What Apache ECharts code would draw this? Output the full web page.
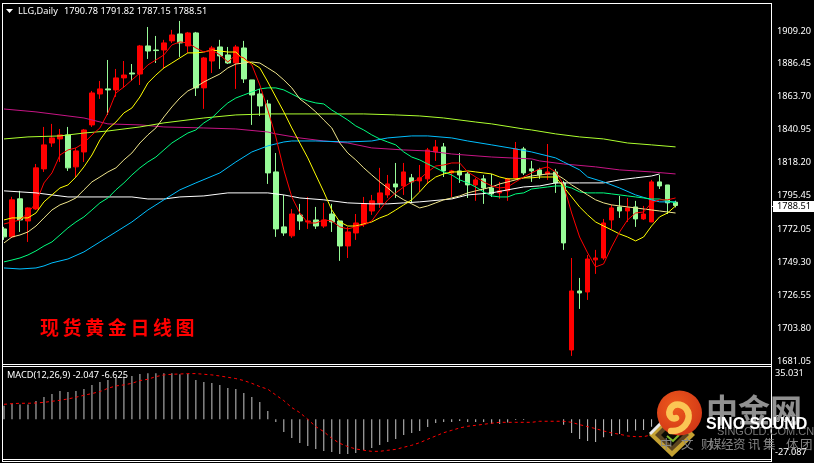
<!DOCTYPE html>
<html>
<head>
<meta charset="utf-8">
<style>html,body{margin:0;padding:0;background:#000}#chart{width:814px;height:463px}</style>
<script src="https://cdn.jsdelivr.net/npm/echarts@6/dist/echarts.min.js"></script>
</head>
<body>
<div id="chart"></div>
<script>
const symbolName = 'LLG,Daily';
const quoteLine = '1790.78 1791.82 1787.15 1788.51';
const macdLine = 'MACD(12,26,9) -2.047 -6.625';
const paneCaption = '现货黄金日线图';
const priceTicks = [1909.20,1886.45,1863.70,1840.95,1818.20,1795.45,1772.05,1749.30,1726.55,1703.80,1681.05];
const macdTicks = [35.031,0,-27.087];

const opens = [1772.3,1766.8,1793.1,1777.8,1786.1,1813.8,1831.7,1834.5,1837.3,1815.2,1825.5,1844.2,1865.6,1869.1,1868.4,1876.7,1880.1,1879.4,1898.8,1896.0,1896.0,1902.3,1907.1,1898.8,1907.8,1869.8,1888.4,1898.1,1892.6,1887.0,1897.4,1875.3,1865.6,1858.7,1811.7,1773.7,1767.5,1781.9,1777.1,1778.5,1774.3,1782.6,1777.8,1760.5,1769.5,1775.7,1784.7,1790.3,1795.8,1803.4,1802.0,1807.6,1805.5,1806.9,1825.5,1829.0,1811.0,1812.4,1810.3,1802.7,1806.9,1800.6,1797.2,1798.6,1807.6,1827.6,1813.8,1813.1,1810.3,1811.7,1804.1,1688.6,1729.4,1728.7,1750.9,1752.2,1778.5,1787.5,1784.7,1787.5,1779.2,1777.1,1804.8,1802.7,1790.78];
const closes = [1766.8,1792.4,1778.5,1786.8,1814.5,1830.4,1835.2,1837.3,1814.5,1826.2,1840.7,1866.3,1869.1,1868.4,1876.7,1878.7,1879.4,1898.8,1895.3,1895.6,1900.9,1906.4,1900.9,1907.8,1869.8,1890.5,1897.4,1891.9,1887.0,1898.1,1876.0,1864.9,1857.3,1811.0,1772.3,1769.5,1782.6,1777.8,1777.8,1774.3,1778.5,1777.1,1760.5,1770.2,1776.4,1789.6,1791.7,1797.2,1803.4,1801.3,1811.7,1804.8,1807.6,1826.9,1829.0,1812.4,1812.4,1809.6,1802.7,1806.2,1800.6,1796.5,1798.6,1806.9,1827.6,1811.0,1812.4,1809.6,1811.7,1804.1,1762.6,1729.4,1728.0,1751.5,1752.2,1776.4,1786.8,1784.7,1786.8,1779.2,1782.6,1804.8,1802.0,1790.3,1788.51];
const highs = [1773.7,1794.5,1798.6,1787.2,1817.2,1842.8,1844.9,1841.4,1842.8,1828.3,1841.4,1867.7,1874.6,1889.1,1882.9,1888.4,1886.3,1899.5,1911.9,1905.7,1903.0,1909.9,1916.1,1908.5,1908.5,1891.2,1898.8,1903.0,1898.1,1899.5,1902.3,1875.3,1869.1,1861.5,1824.8,1795.8,1786.1,1789.6,1794.4,1787.5,1790.3,1789.6,1777.8,1773.7,1782.6,1794.4,1795.8,1814.5,1809.6,1817.9,1817.9,1810.3,1816.5,1828.3,1833.8,1831.7,1813.1,1824.8,1811.7,1807.6,1809.6,1810.3,1804.8,1807.6,1832.4,1829.0,1819.3,1814.5,1831.0,1813.8,1805.5,1752.2,1738.4,1754.3,1757.8,1779.2,1788.9,1795.1,1793.7,1791.7,1788.2,1806.2,1809.6,1802.7,1791.82];
const lows = [1764.7,1766.0,1770.2,1763.3,1785.4,1811.7,1829.0,1818.6,1812.4,1808.2,1818.6,1842.8,1862.2,1851.1,1863.6,1869.8,1874.6,1871.8,1889.8,1887.0,1882.9,1900.9,1891.2,1894.0,1864.2,1855.3,1880.1,1882.9,1886.3,1869.1,1873.2,1844.2,1850.4,1803.4,1766.8,1767.5,1766.1,1771.6,1772.3,1772.3,1773.0,1770.2,1750.2,1752.2,1764.7,1773.7,1782.0,1786.8,1793.7,1793.7,1795.8,1790.3,1797.9,1803.4,1819.3,1808.2,1794.4,1804.1,1793.7,1791.7,1789.6,1794.4,1793.1,1791.7,1806.2,1809.6,1804.8,1806.9,1806.2,1797.2,1757.8,1684.5,1717.0,1723.2,1741.2,1750.9,1772.3,1779.9,1777.1,1773.7,1778.5,1777.1,1799.9,1782.6,1787.15];

// fast averages, one reading per session
const maRed = [1775.7,1777.1,1778.5,1783.3,1790.3,1804.1,1811.0,1823.4,1826.9,1828.3,1831.7,1837.3,1842.1,1852.5,1866.3,1870.4,1875.3,1880.1,1885.7,1889.1,1892.6,1899.5,1901.6,1900.9,1897.4,1894.6,1896.0,1892.6,1887.7,1892.6,1890.5,1885.7,1871.8,1854.5,1835.9,1813.1,1794.4,1783.3,1776.4,1776.4,1778.5,1777.8,1773.7,1772.3,1773.7,1775.0,1777.8,1785.4,1792.4,1797.2,1801.3,1804.8,1806.9,1811.7,1815.8,1816.5,1817.9,1817.9,1811.7,1808.2,1804.8,1802.0,1800.6,1801.3,1804.8,1808.2,1811.0,1813.8,1815.2,1811.7,1802.7,1783.3,1766.7,1755.7,1746.0,1748.1,1759.8,1770.2,1778.5,1783.3,1784.0,1790.3,1792.4,1792.4,1793.7];
const maYellow = [1778.5,1779.9,1779.9,1779.9,1783.3,1791.0,1795.8,1800.6,1802.7,1808.2,1815.2,1823.4,1833.8,1841.4,1846.2,1852.5,1855.9,1863.5,1873.2,1878.7,1883.6,1887.0,1890.5,1894.0,1894.0,1894.6,1896.0,1895.3,1894.6,1894.6,1889.1,1887.0,1883.6,1873.9,1863.5,1853.2,1842.1,1831.7,1821.4,1809.6,1797.9,1785.4,1777.1,1774.3,1774.3,1775.7,1777.1,1779.9,1782.0,1785.4,1788.9,1792.4,1797.9,1804.1,1808.2,1810.3,1811.7,1811.7,1812.4,1811.7,1811.0,1810.3,1808.2,1806.9,1806.9,1807.6,1807.6,1808.2,1808.2,1808.2,1801.3,1794.4,1787.5,1782.0,1777.1,1774.3,1771.6,1768.8,1766.7,1764.0,1766.7,1774.3,1780.6,1783.3,1788.2];
const maKhaki = [1762.6,1766.7,1768.1,1770.2,1774.3,1779.9,1785.4,1788.9,1791.0,1793.7,1799.3,1804.8,1808.2,1811.7,1814.5,1820.0,1824.8,1831.7,1837.3,1842.1,1849.7,1856.6,1862.8,1867.7,1870.4,1873.9,1876.7,1879.4,1883.6,1886.3,1887.0,1887.7,1887.0,1883.6,1880.1,1875.3,1869.8,1862.2,1858.0,1853.2,1847.6,1842.1,1831.7,1824.8,1820.0,1814.5,1809.6,1804.8,1800.6,1795.8,1792.4,1789.6,1786.8,1788.2,1790.3,1792.4,1793.7,1795.1,1797.2,1798.6,1799.9,1801.3,1803.4,1804.8,1806.2,1807.6,1808.9,1809.6,1810.3,1810.3,1806.9,1802.7,1799.3,1795.8,1792.4,1790.3,1788.9,1788.2,1787.5,1786.8,1786.1,1785.4,1784.7,1784.0,1783.3];
const maSpring = [1749.5,1750.8,1752.2,1754.3,1757.1,1760.5,1763.3,1768.1,1773.0,1777.1,1780.6,1785.4,1790.3,1793.7,1799.3,1804.1,1809.6,1814.5,1818.6,1822.0,1826.9,1831.7,1835.2,1838.6,1840.7,1845.6,1849.0,1854.5,1859.4,1862.8,1864.9,1867.0,1869.1,1869.8,1869.8,1868.4,1865.6,1862.8,1860.8,1859.4,1858.7,1854.5,1851.1,1847.6,1843.5,1840.7,1837.3,1834.5,1832.4,1830.4,1825.5,1822.0,1820.0,1817.2,1814.5,1811.7,1809.6,1806.2,1804.1,1801.3,1797.9,1795.1,1794.4,1794.4,1796.5,1797.2,1799.9,1800.6,1801.3,1802.0,1802.0,1800.6,1797.9,1797.2,1797.2,1797.2,1796.5,1795.8,1795.1,1794.4,1793.7,1793.0,1793.0,1791.7,1790.3];

// slow averages, read at the turning points as [session, price]
const maSky = [[0,1745.3],[2,1744.6],[4,1745.3],[5,1746.7],[6,1748.8],[8,1751.5],[10,1756.4],[12,1763.3],[14,1770.2],[16,1777.1],[18,1785.4],[20,1792.4],[22,1799.3],[24,1804.1],[27,1811.0],[29,1818.6],[31,1825.5],[33,1829.7],[35,1832.4],[36,1833.1],[39,1833.1],[43,1832.4],[46,1833.1],[48,1835.2],[51,1836.6],[53,1836.6],[56,1835.2],[58,1833.1],[61,1830.4],[64,1827.6],[66,1825.5],[69,1821.4],[70,1818.6],[72,1813.1],[73,1808.2],[75,1804.8],[77,1800.6],[79,1795.8],[81,1792.4],[82,1791.0],[84,1791.0]];
const maWhite = [[0,1798.6],[2,1797.9],[4,1797.2],[6,1795.8],[8,1794.4],[16,1794.4],[18,1793.0],[20,1793.0],[22,1794.4],[25,1795.1],[28,1797.2],[33,1797.2],[35,1795.8],[37,1793.7],[40,1792.4],[43,1790.3],[46,1789.6],[48,1789.6],[50,1790.3],[52,1791.0],[56,1793.0],[58,1795.8],[61,1797.2],[63,1799.3],[65,1801.3],[67,1802.0],[69,1804.1],[72,1804.1],[75,1804.1],[77,1806.2],[79,1807.6],[81,1808.9],[82,1810.3]];
const maLime = [[0,1834.5],[3,1835.9],[7,1836.6],[10,1838.6],[13,1840.0],[17,1842.8],[20,1845.6],[25,1849.0],[29,1851.1],[33,1851.8],[45,1851.8],[49,1851.1],[52,1850.4],[55,1849.0],[59,1846.2],[61,1844.9],[65,1841.4],[66,1840.7],[69,1838.0],[72,1835.9],[75,1834.5],[78,1831.7],[81,1830.4],[84,1829.0]];
const maViolet = [[0,1855.2],[4,1853.2],[8,1850.4],[10,1849.0],[13,1844.9],[17,1844.2],[20,1842.8],[25,1842.1],[29,1841.4],[33,1839.3],[34,1838.0],[37,1835.2],[40,1833.1],[43,1831.7],[46,1828.3],[50,1826.9],[53,1826.2],[56,1824.1],[61,1822.0],[66,1820.7],[67,1819.3],[70,1817.2],[74,1815.2],[77,1813.1],[81,1811.7],[84,1810.3]];

const macdHist = [10.4,11.9,11.2,11.2,14.0,17.0,19.3,21.6,20.8,21.6,23.1,26.2,28.4,30.0,31.5,32.5,33.0,34.5,35.0,35.0,35.0,35.0,34.3,34.5,30.0,28.4,27.7,26.2,23.9,23.1,20.1,17.0,13.2,6.3,-2.0,-9.6,-14.2,-18.0,-20.3,-22.6,-24.1,-24.9,-26.4,-26.4,-25.6,-23.4,-21.8,-19.6,-17.3,-15.0,-11.9,-10.4,-8.9,-5.8,-2.8,-2.0,-2.0,-1.3,-2.0,-2.0,-2.0,-3.3,-3.6,-2.5,-0.5,-0.5,0.1,0.1,0.1,0.1,-4.1,-10.4,-15.0,-16.5,-17.3,-13.7,-12.7,-11.2,-9.4,-8.6,-8.1,-5.6,-4.0,-3.0,-2.047];
const macdSignal = [11.4,11.9,12.2,12.2,12.4,12.9,13.7,14.5,15.5,16.8,18.3,19.6,21.1,23.6,25.4,26.2,27.4,29.5,30.5,32.5,33.8,34.3,34.5,34.8,34.8,34.3,33.8,33.0,32.0,31.0,29.5,27.4,24.9,22.9,18.5,14.2,8.9,5.1,0,-5.6,-9.4,-14.5,-18.3,-20.8,-22.6,-23.6,-24.4,-24.4,-23.6,-22.9,-21.3,-19.8,-17.8,-15.2,-12.7,-10.2,-8.4,-6.6,-5.3,-4.6,-3.8,-3.0,-2.3,-2.3,-2.3,-2.3,-2.3,-1.5,-1.5,-1.5,-1.5,-2.3,-4.1,-5.6,-7.1,-8.9,-10.4,-11.4,-12.7,-13.2,-13.2,-11.9,-10.7,-8.6,-6.625];

const uiFont = '"Noto Sans", sans-serif';
const brandFont = '"Liberation Sans", sans-serif';
const cjkFont = '"Noto Sans CJK SC", sans-serif';
const sessions = Array.from({length: 96}, (_, i) => i);
const candles = opens.map((o, i) => [o, closes[i], lows[i], highs[i]]);

const maLine = (name, data, color) => ({
  name, type: 'line', data, xAxisIndex: 0, yAxisIndex: 0, z: 5,
  showSymbol: false, silent: true, lineStyle: {color, width: 1}
});

const chart = echarts.init(document.getElementById('chart'), null, {renderer: 'canvas'});

const txt = (text, x, y, fill, font, extra) => Object.assign({
  type: 'text', x, y, z: 50, silent: true,
  style: {text, fill, font, textVerticalAlign: 'middle', textBaseline: 'middle'}
}, extra || {});
const hline = (y) => ({type: 'line', z: 40, silent: true, shape: {x1: 2, y1: y, x2: 772, y2: y}, style: {stroke: '#fff', lineWidth: 1}});

// pane frames and the strip left of the plot
const frames = [
  {type: 'rect', z: 39, silent: true, shape: {x: 0, y: 0, width: 2, height: 463}, style: {fill: '#000'}},
  hline(3.5), hline(364.5), hline(366.5), hline(459.5), hline(461.5),
  {type: 'line', z: 40, silent: true, shape: {x1: 2.5, y1: 3, x2: 2.5, y2: 462}, style: {stroke: '#fff', lineWidth: 1}},
  {type: 'line', z: 40, silent: true, shape: {x1: 771.5, y1: 3, x2: 771.5, y2: 462}, style: {stroke: '#fff', lineWidth: 1}}
];

// header, indicator caption and the red pane title
const captions = [
  {type: 'polygon', z: 50, silent: true, shape: {points: [[6, 9], [13, 9], [9.5, 13]]}, style: {fill: '#fff'}},
  txt(symbolName, 18, 11.5, '#fff', '9.2px ' + uiFont),
  txt(quoteLine, 64, 11.5, '#fff', '9.2px ' + uiFont),
  txt(macdLine, 7, 375.5, '#fff', '9.2px ' + uiFont)
].concat(paneCaption.split('').map((ch, i) =>
  txt(ch, 40 + i * 22.6, 328, '#ff0000', 'bold 19px ' + cjkFont)));

// site emblem in the lower right corner
const swirl = (x1, y1, cpx1, cpy1, cpx2, cpy2, x2, y2) => ({
  type: 'bezierCurve', z: 62, silent: true,
  shape: {x1, y1, cpx1, cpy1, cpx2, cpy2, x2, y2},
  style: {stroke: '#fbc554', fill: null, lineWidth: 6.5, lineCap: 'round'}
});
const emblem = [
  {type: 'polygon', z: 60, silent: true, shape: {points: [[649, 435], [672, 412], [695, 435], [672, 457]]}, style: {fill: '#c4a132'}},
  {type: 'polygon', z: 60, silent: true, shape: {points: [[655, 435], [672, 418], [689, 435], [672, 451]]}, style: {fill: '#5a4420'}},
  {type: 'polygon', z: 60, silent: true, shape: {points: [[661, 435], [672, 424], [683, 435], [672, 446]]}, style: {fill: '#0a0a04'}},
  {type: 'polyline', z: 60, silent: true, shape: {points: [[667, 436], [673, 441], [679, 435]]}, style: {stroke: '#7fb82a', lineWidth: 2, fill: null}},
  {type: 'polyline', z: 60, silent: true, shape: {points: [[650, 434], [660, 424]]}, style: {stroke: '#e8e8e8', lineWidth: 3, fill: null}},
  {type: 'circle', z: 61, silent: true, shape: {cx: 679.5, cy: 413, r: 22.5},
    style: {fill: new echarts.graphic.RadialGradient(0.4, 0.35, 0.75, [{offset: 0, color: '#ee5a1c'}, {offset: 1, color: '#cf3416'}])}},
  swirl(671, 431, 683, 432, 691, 421, 688, 412),
  swirl(688, 412, 685, 404, 675, 402, 671, 408),
  swirl(671, 408, 667, 414, 671, 420, 676, 418),
  txt('中金网', 706, 410, '#909090', 'bold 32px ' + cjkFont, {z: 60}),
  txt('SINGOLD.COM.CN', 717, 432, '#777', '11px ' + brandFont, {z: 61}),
  txt('SINO SOUND', 706, 425, '#fff', 'bold 16px ' + brandFont, {z: 62})
];
[['中', 660], ['文', 681], ['财', 701], ['媒', 709], ['经', 721], ['资', 733], ['讯', 748], ['集', 763], ['体', 786], ['团', 800]]
  .forEach(([ch, x]) => emblem.push(txt(ch, x, 444, '#868686', '12.5px ' + cjkFont, {z: 63})));

chart.setOption({
  animation: false,
  backgroundColor: '#000',
  grid: [
    {left: -0.5, top: 4, width: 768, height: 360, show: false},
    {left: -0.5, top: 367, width: 768, height: 92, show: false}
  ],
  xAxis: [
    {type: 'category', gridIndex: 0, data: sessions, show: false, boundaryGap: true},
    {type: 'category', gridIndex: 1, data: sessions, show: false, boundaryGap: true}
  ],
  yAxis: [
    {type: 'value', gridIndex: 0, position: 'right', offset: 4, min: 1678.9, max: 1927.8, splitLine: {show: false},
      axisLine: {show: false}, axisTick: {show: false},
      axisLabel: {customValues: priceTicks, color: '#fff', fontFamily: uiFont, fontSize: 9.2, margin: 5.5,
        padding: [2, 0, 0, 0], formatter: v => v.toFixed(2)}},
    {type: 'value', gridIndex: 1, position: 'right', offset: 4, min: -30.24, max: 39.83, splitLine: {show: false},
      axisLine: {show: false}, axisTick: {show: false},
      axisLabel: {customValues: macdTicks, color: '#fff', fontFamily: uiFont, fontSize: 9.2, margin: 3.5,
        formatter: v => v === 0 ? '0.00' : v < 0 ? '{low|' + v.toFixed(3) + '}' : v.toFixed(3),
        rich: {low: {color: '#fff', fontFamily: uiFont, fontSize: 9.2, padding: [0, 0, 4, 0]}}}}
  ],
  series: [
    {type: 'candlestick', name: 'LLG', xAxisIndex: 0, yAxisIndex: 0, data: candles, barWidth: 5, z: 3, silent: true,
      itemStyle: {color: '#ff0000', color0: '#98fb98', borderColor: '#ff0000', borderColor0: '#98fb98', borderWidth: 1}},
    maLine('violet', maViolet, '#c71585'),
    maLine('lime', maLime, '#adff2f'),
    maLine('white', maWhite, '#ffffff'),
    maLine('sky', maSky, '#00bfff'),
    maLine('spring', maSpring, '#00ff7f'),
    maLine('khaki', maKhaki, '#f0e68c'),
    maLine('yellow', maYellow, '#ffff00'),
    maLine('red', maRed, '#ff0000'),
    {type: 'bar', name: 'MACD', xAxisIndex: 1, yAxisIndex: 1, data: macdHist, barWidth: 1, z: 3, silent: true,
      itemStyle: {color: '#c8c8c8'}},
    {type: 'line', name: 'Signal', xAxisIndex: 1, yAxisIndex: 1, data: macdSignal, z: 5, showSymbol: false, silent: true,
      lineStyle: {color: '#ff0000', width: 1, type: [3, 3]}}
  ],
  graphic: frames.concat(captions, emblem)
});

// last-price tag on the price scale, placed from the final close
const tagY = chart.convertToPixel({yAxisIndex: 0}, closes[closes.length - 1]);
chart.setOption({
  graphic: frames.concat(captions, emblem, [
    {type: 'rect', z: 45, silent: true, shape: {x: 773, y: tagY - 4.5, width: 41, height: 11}, style: {fill: '#fff'}},
    {type: 'line', z: 45, silent: true, shape: {x1: 771, y1: tagY + 1, x2: 774, y2: tagY + 1}, style: {stroke: '#fff', lineWidth: 1}},
    txt(closes[closes.length - 1].toFixed(2), 777, tagY + 1, '#000', '9.2px ' + uiFont, {z: 46})
  ])
});
</script>
</body>
</html>
